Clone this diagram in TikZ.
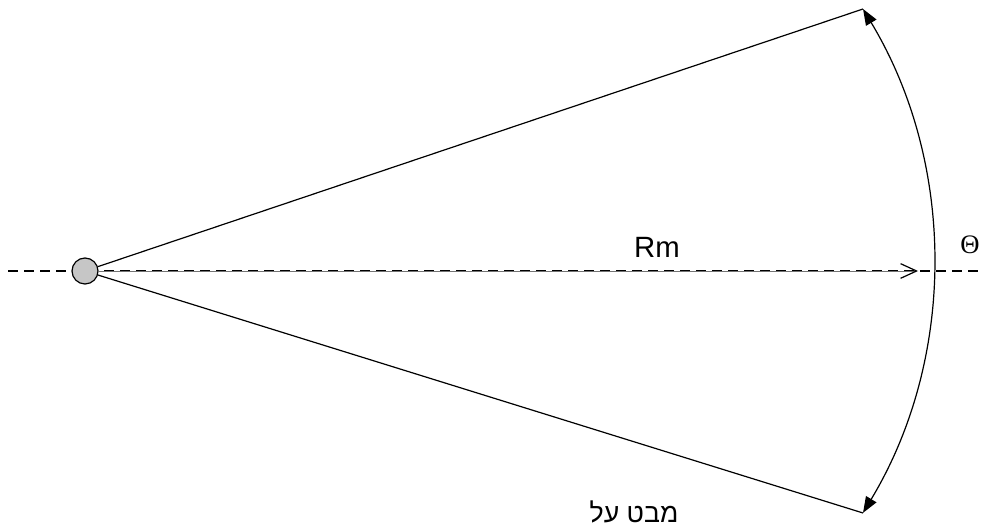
\documentclass[tikz,border=0pt]{standalone}
\usepackage{fontspec}
\setmainfont{Liberation Sans}
\newfontfamily\hebfont[Script=Hebrew]{Liberation Sans}
\newfontfamily\symfont{Liberation Serif}
\TeXXeTstate=1
\usetikzlibrary{arrows.meta}

\begin{document}
\begin{tikzpicture}[x=0.75pt, y=0.75pt, font=\fontsize{22}{24}\selectfont,
  line width=0.9pt,
  axis/.style={dashed, dash pattern=on 7.5pt off 4.5pt},
  lbl/.style={inner sep=0pt},
  src/.style={circle, draw, fill=gray!45, minimum size=19.5pt, inner sep=0pt}]
  \useasboundingbox (0,0) rectangle (984,527);
  % centre line
  \coordinate (axl) at (8,256);
  \coordinate (axr) at (984,256);
  \draw[axis] (axl) -- (axr);
  % source and end points
  \node[src] (srcpt) at (85,256) {};
  \coordinate (rmtip) at (918,256);
  \coordinate (arctop) at (863,518);
  \coordinate (arcbot) at (863,14);
  % rays
  \draw (srcpt) -- (arctop);
  \draw (srcpt) -- (arcbot);
  \draw[black!55, line width=0.5pt, -{Straight Barb[length=12pt, width=11pt, black, line width=0.9pt]}] (srcpt) -- (rmtip);
  % opening angle
  \draw[{Triangle[length=12pt, width=9pt]}-{Triangle[length=12pt, width=9pt]}] (arctop) arc[start angle=31.04, end angle=-31.04, radius=488.6];
  % labels
  \node[lbl] (rm) at (657,280) {Rm};
  \node[lbl, font=\symfont\fontsize{20}{22}\selectfont] (theta) at (970,282) {Θ};
  \node[lbl, font=\fontsize{20}{22}\selectfont] (view) at (634,15) {\hebfont\beginR מבט על\endR};
\end{tikzpicture}
\end{document}
